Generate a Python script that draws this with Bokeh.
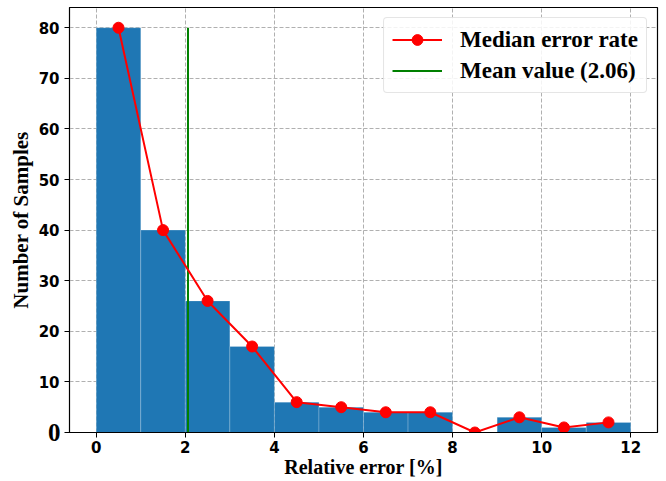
from bokeh.plotting import figure
from bokeh.models import FixedTicker, Legend, LinearAxis
from bokeh.embed import file_html
from bokeh.resources import INLINE

bin_left = [0, 1, 2, 3, 4, 5, 6, 7, 8, 9, 10, 11]
bin_right = [1, 2, 3, 4, 5, 6, 7, 8, 9, 10, 11, 12]
counts = [80, 40, 26, 17, 6, 5, 4, 4, 0, 3, 1, 2]
median_x = [0.5, 1.5, 2.5, 3.5, 4.5, 5.5, 6.5, 7.5, 8.5, 9.5, 10.5, 11.5]
median_y = [80, 40, 26, 17, 6, 5, 4, 4, 0, 3, 1, 2]
mean_value = 2.06
x_ticks = [0, 2, 4, 6, 8, 10, 12]
y_ticks = [0, 10, 20, 30, 40, 50, 60, 70, 80]

p = figure(width=666, height=481, output_backend="svg", toolbar_location=None,
           x_range=(-0.6, 12.6), y_range=(0, 84),
           min_border_left=69, min_border_right=9, min_border_top=7, min_border_bottom=49)
p.background_fill_color = "white"
p.border_fill_color = "white"
p.outline_line_color = "black"
p.outline_line_width = 1.2

p.quad(left=bin_left, right=bin_right, top=counts, bottom=0,
       fill_color="#1f77b4", line_color="white", line_alpha=0.35, line_width=0.6)
mean_r = p.line([mean_value, mean_value], [0, counts[0]], line_color="green", line_width=2)
med_l = p.line(median_x, median_y, line_color="red", line_width=2)
med_s = p.scatter(median_x, median_y, size=11, fill_color="red", line_color="red")

legend = Legend(items=[("Median error rate", [med_l, med_s]), ("Mean value (2.06)", [mean_r])],
                location="top_right")
legend.margin = 10
legend.padding = 8
legend.spacing = 4
legend.label_text_font = "Liberation Serif"
legend.label_text_font_style = "bold"
legend.label_text_font_size = "23px"
legend.label_text_color = "black"
legend.label_standoff = 18
legend.glyph_width = 50
legend.glyph_height = 27
legend.label_height = 27
legend.border_line_color = "#cccccc"
legend.border_line_width = 1
legend.background_fill_alpha = 0.85
if hasattr(legend, "border_radius"):
    legend.border_radius = 4
p.add_layout(legend)

for ax in (p.xaxis, p.yaxis):
    ax.major_label_text_font = "DejaVu Sans"
    ax.major_label_text_font_style = "bold"
    ax.major_label_text_font_size = "15px"
    ax.major_label_text_color = "black"
    ax.axis_label_text_font = "Liberation Serif"
    ax.axis_label_text_font_style = "bold"
    ax.axis_label_text_color = "black"
    ax.minor_tick_line_color = None
    ax.major_tick_out = 5
    ax.major_tick_in = 0
    ax.axis_line_color = "black"
    ax.major_tick_line_color = "black"

p.xaxis.axis_label_text_font_size = "20px"
p.yaxis.axis_label_text_font_size = "21px"
p.xaxis.ticker = FixedTicker(ticks=x_ticks)
p.yaxis.ticker = FixedTicker(ticks=y_ticks)
p.yaxis.major_label_overrides = {0: ""}
p.xaxis.axis_label = "Relative error [%]"
p.yaxis.axis_label = "Number of Samples"
p.xaxis.major_label_standoff = 3
p.yaxis.major_label_standoff = 5
p.xaxis.axis_label_standoff = 0
p.yaxis.axis_label_standoff = 3

# large serif "0" at the origin of the y axis
zero_axis = LinearAxis(ticker=FixedTicker(ticks=[0]))
zero_axis.axis_line_color = None
zero_axis.major_tick_line_color = None
zero_axis.minor_tick_line_color = None
zero_axis.major_tick_out = 0
zero_axis.major_tick_in = 0
zero_axis.major_label_standoff = -55
zero_axis.major_label_text_font = "Liberation Serif"
zero_axis.major_label_text_font_style = "bold"
zero_axis.major_label_text_font_size = "25px"
zero_axis.major_label_text_color = "black"
p.add_layout(zero_axis, "left")

p.xgrid.ticker = FixedTicker(ticks=x_ticks)
p.ygrid.ticker = FixedTicker(ticks=y_ticks)
for g in (p.xgrid, p.ygrid):
    g.grid_line_color = "#b0b0b0"
    g.grid_line_dash = "4 2"
    g.grid_line_width = 1

open("out.html", "w").write(file_html(p, INLINE))
